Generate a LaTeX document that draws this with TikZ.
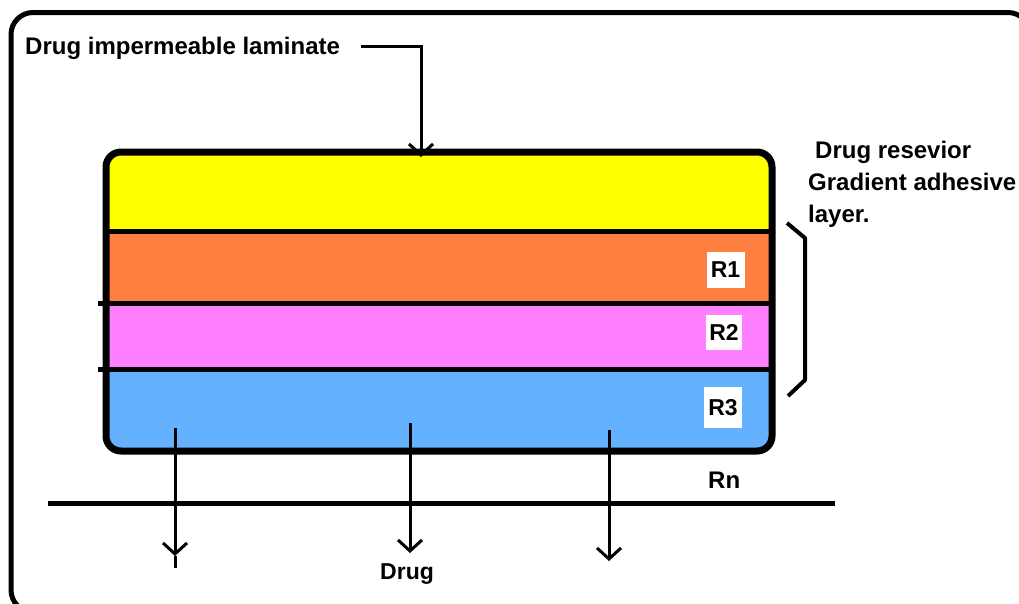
\documentclass[tikz,border=0pt]{standalone}
\usepackage{fontspec}
\setmainfont{Liberation Sans}
\usetikzlibrary{arrows.meta}
\definecolor{layY}{HTML}{FFFF00}
\definecolor{layO}{HTML}{FF7F40}
\definecolor{layP}{HTML}{FF80FF}
\definecolor{layB}{HTML}{63B1FF}
\begin{document}
\begin{tikzpicture}[x=1pt,y=-1pt,
  lbl/.style={font=\fontsize{24}{28}\bfseries\selectfont, inner sep=0pt, anchor=base west},
  rbox/.style={font=\fontsize{23}{27}\bfseries\selectfont, fill=white, inner sep=0pt, minimum width=38pt, minimum height=36pt},
  flow/.style={line width=3pt, -{Straight Barb[length=11pt,width=24pt,line width=3pt]}},
  layerfill/.style={draw=none, inner sep=0pt, anchor=north west, minimum width=680pt}]
\useasboundingbox (0,0) rectangle (1019,603);
% outer frame
\draw[line width=5pt, rounded corners=22pt] (11,12.5) rectangle (1030,612);
% layers
\begin{scope}
  \clip[rounded corners=15pt] (106,152) rectangle (772,451);
  \node[layerfill, fill=layY, minimum height=80pt] (L0) at (100,150) {};
  \node[layerfill, fill=layO, minimum height=72pt] (L1) at (100,230) {};
  \node[layerfill, fill=layP, minimum height=68pt] (L2) at (100,302) {};
  \node[layerfill, fill=layB, minimum height=85pt] (L3) at (100,368) {};
\end{scope}
\draw[line width=5pt] (106,231.5) -- (772,231.5);
\draw[line width=5pt] (98,303) -- (772,303);
\draw[line width=5pt] (98,369) -- (772,369);
\draw[line width=7pt, rounded corners=15pt] (106,152) rectangle (772,451);
% R labels
\node[rbox] (R1) at (725.5,270) {R1};
\node[rbox, minimum width=36pt, minimum height=35pt] (R2) at (724,332.5) {R2};
\node[rbox, minimum height=41pt] (R3) at (723,407.5) {R3};
% top label and arrow
\node[lbl] (lam) at (25,54) {Drug impermeable laminate};
\coordinate (lamA) at (361,46);
\coordinate (lamB) at (421,157);
\draw[flow] (lamA) -| (lamB);
% brace
\coordinate (b1) at (787,223);
\coordinate (b2) at (805,238);
\coordinate (b3) at (805,380);
\coordinate (b4) at (788,396);
\draw[line width=4pt, line join=round] (b1) -- (b2) -- (b3) -- (b4);
\node[lbl] (res1) at (815,158) {Drug resevior};
\node[lbl] (res2) at (808,190) {Gradient adhesive};
\node[lbl] (res3) at (808,222) {layer.};
% base line
\coordinate (g1) at (48,503);
\coordinate (g2) at (835,503);
\draw[line width=5pt] (g1) -- (g2);
\node[lbl] (Rn) at (708,488) {Rn};
% drug flow arrows
\coordinate (a1s) at (175,428);
\coordinate (a1t) at (175,556);
\coordinate (a1e) at (175,568);
\draw[line width=3pt] (a1t) -- (a1e);
\draw[flow] (a1s) -- (a1t);
\coordinate (a2s) at (410,423);
\coordinate (a2t) at (410,553);
\draw[flow] (a2s) -- (a2t);
\coordinate (a3s) at (609,430);
\coordinate (a3t) at (609,561);
\draw[flow] (a3s) -- (a3t);
\node[lbl, font=\fontsize{23}{27}\bfseries\selectfont] (drug) at (380,579) {Drug};
\end{tikzpicture}
\end{document}
